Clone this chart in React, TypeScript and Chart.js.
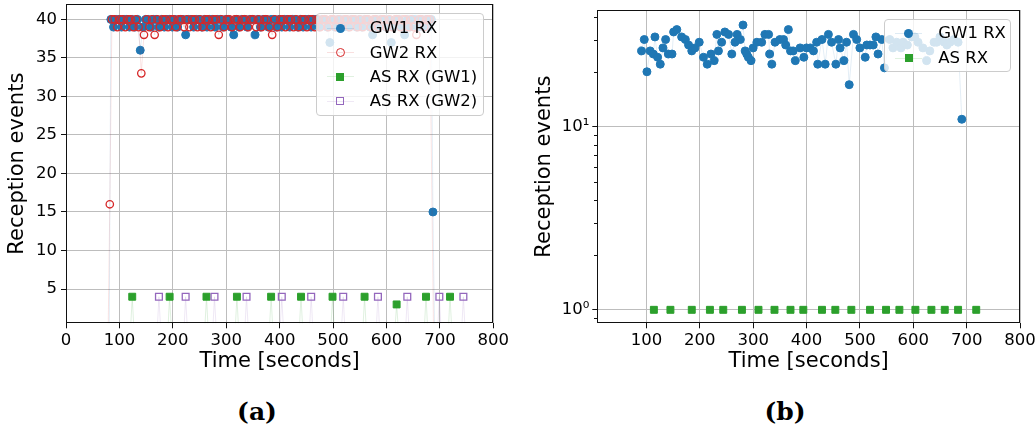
import React, { useEffect, useRef } from 'react';
import { Chart, registerables } from 'chart.js';

Chart.register(...registerables);

const FONT = "'DejaVu Sans', sans-serif";
const BLUE = '#1f77b4';
const RED = '#d62728';
const GREEN = '#2ca02c';
const PURPLE = '#9467bd';
const GRID = '#bdbdbd';

// ---------- (a) linear plot ----------
const xTicksA = [0, 100, 200, 300, 400, 500, 600, 700, 800];

const gw1TimesA = [
  81,
  84, 89, 94, 99, 104, 109, 114, 119, 124, 129,
  134, 139, 144, 149, 154, 159, 164, 169, 174, 179,
  184, 189, 194, 199, 204, 209, 214, 219, 224, 229,
  234, 239, 244, 249, 254, 259, 264, 269, 274, 279,
  284, 289, 294, 299, 304, 309, 314, 319, 324, 329,
  334, 339, 344, 349, 354, 359, 364, 369, 374, 379,
  384, 389, 394, 399, 404, 409, 414, 419, 424, 429,
  434, 439, 444, 449, 454, 459, 464, 469, 474, 479,
  484, 489, 494, 499, 504, 509, 514, 519, 524, 529,
  534, 539, 544, 549, 554, 559, 564, 569, 574, 579,
  584, 589, 594, 599, 604, 609, 614, 619, 624, 629,
  634, 639, 644, 649, 654, 659, 664, 669, 674, 679,
  684, 687, 690,
];
const gw1ValuesA = [
  0,
  40, 39, 40, 40, 39, 40, 40, 39, 40, 39,
  40, 36, 39, 40, 40, 39, 40, 40, 39, 40,
  39, 40, 40, 39, 40, 39, 40, 40, 38, 40,
  40, 39, 40, 40, 39, 40, 39, 40, 40, 39,
  40, 40, 39, 40, 40, 39, 38, 40, 39, 40,
  40, 39, 40, 40, 38, 40, 39, 40, 40, 39,
  40, 40, 39, 40, 39, 40, 40, 39, 40, 40,
  39, 40, 39, 40, 40, 39, 40, 40, 39, 40,
  40, 39, 37, 40, 39, 40, 40, 39, 40, 39,
  40, 40, 39, 40, 39, 40, 40, 39, 38, 40,
  39, 40, 40, 39, 40, 37, 39, 40, 40, 39,
  38, 40, 39, 40, 40, 39, 40, 39, 40, 39,
  40, 15, 0,
];

const gw2TimesA = [
  79, 82,
  86, 91, 96, 101, 106, 111, 116, 121, 126, 131,
  136, 141, 146, 151, 156, 161, 166, 171, 176, 181,
  186, 191, 196, 201, 206, 211, 216, 221, 226, 231,
  236, 241, 246, 251, 256, 261, 266, 271, 276, 281,
  286, 291, 296, 301, 306, 311, 316, 321, 326, 331,
  336, 341, 346, 351, 356, 361, 366, 371, 376, 381,
  386, 391, 396, 401, 406, 411, 416, 421, 426, 431,
  436, 441, 446, 451, 456, 461, 466, 471, 476, 481,
  486, 491, 496, 501, 506, 511, 516, 521, 526, 531,
  536, 541, 546, 551, 556, 561, 566, 571, 576, 581,
  586, 591, 596, 601, 606, 611, 616, 621, 626, 631,
  636, 641, 646, 651, 656, 661, 666, 671, 676, 681,
  688,
];
const gw2ValuesA = [
  0, 16,
  40, 40, 39, 40, 40, 39, 40, 40, 39, 40,
  39, 33, 38, 40, 39, 40, 38, 40, 39, 40,
  40, 39, 40, 40, 39, 40, 40, 39, 40, 39,
  40, 40, 39, 40, 39, 40, 40, 39, 40, 40,
  38, 40, 39, 40, 40, 39, 40, 40, 39, 40,
  40, 39, 40, 40, 39, 40, 39, 40, 40, 39,
  38, 40, 39, 40, 40, 39, 40, 40, 39, 40,
  39, 40, 40, 39, 40, 40, 39, 40, 39, 40,
  40, 39, 40, 40, 39, 40, 39, 40, 40, 39,
  40, 40, 39, 40, 39, 40, 40, 39, 40, 40,
  39, 40, 40, 39, 40, 39, 40, 40, 39, 40,
  40, 39, 40, 39, 38, 40, 40, 39, 40, 40,
  0,
];

const asGw1TimesA = [124, 194, 263, 320, 384, 440, 499, 559, 619, 674, 719];
const asGw1ValuesA = [4, 4, 4, 4, 4, 4, 4, 4, 3, 4, 4];
const asGw2TimesA = [174, 224, 278, 338, 404, 459, 519, 584, 639, 699, 744];
const asGw2ValuesA = [4, 4, 4, 4, 4, 4, 4, 4, 4, 4, 4];

// ---------- (b) log plot ----------
const xTicksB = [100, 200, 300, 400, 500, 600, 700, 800];
const minorTicksB = [0.9, 2, 3, 4, 5, 6, 7, 8, 9, 20, 30, 40];

const gw1TimesB = [
  88, 91, 96, 101, 107, 113, 116, 121, 126, 131,
  136, 141, 148, 151, 157, 166, 173, 179, 185, 191,
  199, 207, 214, 221, 227, 232, 235, 241, 247, 254,
  260, 266, 270, 276, 281, 285, 288, 291, 296, 300,
  307, 316, 322, 329, 331, 335, 341, 350, 357, 361,
  366, 370, 375, 379, 388, 395, 400, 407, 413, 419,
  421, 429, 435, 441, 447, 455, 460, 463, 470, 475,
  480, 488, 494, 500, 510, 513, 519, 525, 530, 534,
  541, 546, 556, 562, 569, 577, 581, 589, 597, 603,
  609, 618, 625, 631, 639, 644, 650, 658, 663, 669,
  676, 684, 691, 694,
];
const gw1ValuesB = [
  0, 26, 30, 20, 26, 25, 31, 24, 22, 27,
  30, 25, 25, 33, 34, 31, 30, 28, 26, 27,
  29, 24, 22, 25, 23, 32, 26, 29, 33, 32,
  25, 29, 32, 30, 36, 26, 25, 24, 23, 27,
  29, 29, 32, 32, 25, 22, 29, 30, 30, 28,
  34, 26, 26, 23, 27, 24, 27, 27, 26, 29,
  22, 30, 22, 32, 29, 22, 30, 27, 23, 29,
  17, 32, 30, 27, 24, 28, 28, 28, 31, 25,
  30, 21, 30, 27, 29, 27, 29, 28, 31, 31,
  29, 27, 23, 26, 29, 29, 31, 29, 28, 29,
  30, 29, 11, 0,
];

const asTimesB = [114, 145, 185, 219, 244, 279, 310, 340, 370, 394, 429, 454, 484, 519, 549, 574, 604, 634, 659, 684, 718];
const asValuesB = [1, 1, 1, 1, 1, 1, 1, 1, 1, 1, 1, 1, 1, 1, 1, 1, 1, 1, 1, 1, 1];

const PULSE_HALF = 3;

function pts(times: number[], values: number[]) {
  return times.map((t, i) => ({ x: t, y: values[i] }));
}
function pulses(times: number[], values: number[]) {
  const out: { x: number; y: number }[] = [];
  times.forEach((t, i) => {
    out.push({ x: t - PULSE_HALF, y: 0 }, { x: t, y: values[i] }, { x: t + PULSE_HALF, y: 0 });
  });
  return out;
}

const hideZero = (r: number) => (ctx: any) => (ctx.raw && ctx.raw.y === 0 ? 0 : r);

const framePlugin = {
  id: 'frame',
  afterDraw(chart: any) {
    const { ctx, chartArea: a } = chart;
    ctx.save();
    ctx.strokeStyle = '#111';
    ctx.lineWidth = 1;
    const l = Math.round(a.left) + 0.5;
    const t = Math.round(a.top) + 0.5;
    const r = Math.round(a.right) - 0.5;
    const b = Math.round(a.bottom) - 0.5;
    ctx.strokeRect(l, t, r - l, b - t);
    ctx.restore();
  },
};

const minorTickPlugin = {
  id: 'minorTicks',
  afterDraw(chart: any) {
    const y = chart.scales.y;
    const { ctx, chartArea: a } = chart;
    ctx.save();
    ctx.strokeStyle = '#111';
    ctx.lineWidth = 1;
    minorTicksB.forEach((v) => {
      const py = Math.round(y.getPixelForValue(v)) + 0.5;
      ctx.beginPath();
      ctx.moveTo(Math.round(a.left) - 3, py);
      ctx.lineTo(Math.round(a.left), py);
      ctx.stroke();
    });
    ctx.restore();
  },
};

const tickFont = { family: FONT, size: 16.5 };
const titleFont = { family: FONT, size: 21 };

function xScale(min: number, max: number, ticksList: number[]) {
  return {
    type: 'linear',
    min,
    max,
    afterBuildTicks: (s: any) => {
      s.ticks = ticksList.map((v) => ({ value: v }));
    },
    ticks: { font: tickFont, color: '#000', padding: 3, maxRotation: 0, minRotation: 0, autoSkip: false },
    grid: { color: GRID, lineWidth: 1, tickColor: '#111', tickLength: 5 },
    border: { display: false },
    title: { display: true, text: 'Time [seconds]', font: titleFont, color: '#000', padding: { top: 0, bottom: 5.4 } },
    afterFit: (s: any) => {
      s.height = 56.7;
      s.paddingLeft = 0;
      s.paddingRight = 0;
    },
  };
}

function configA(): any {
  return {
    type: 'line',
    data: {
      datasets: [
        {
          label: 'GW1 RX', data: pts(gw1TimesA, gw1ValuesA), order: 4,
          borderColor: 'rgba(31,119,180,0.12)', borderWidth: 1, tension: 0,
          pointRadius: hideZero(4), pointStyle: 'circle',
          pointBackgroundColor: BLUE, pointBorderColor: BLUE, pointBorderWidth: 1,
        },
        {
          label: 'GW2 RX', data: pts(gw2TimesA, gw2ValuesA), order: 3,
          borderColor: 'rgba(214,39,40,0.12)', borderWidth: 1, tension: 0,
          pointRadius: hideZero(3.7), pointStyle: 'circle',
          pointBackgroundColor: 'rgba(0,0,0,0)', pointBorderColor: RED, pointBorderWidth: 1.3,
        },
        {
          label: 'AS RX (GW1)', data: pulses(asGw1TimesA, asGw1ValuesA), order: 2,
          borderColor: 'rgba(44,160,44,0.15)', borderWidth: 1, tension: 0,
          pointRadius: hideZero(4.9), pointStyle: 'rect',
          pointBackgroundColor: GREEN, pointBorderColor: GREEN, pointBorderWidth: 1,
        },
        {
          label: 'AS RX (GW2)', data: pulses(asGw2TimesA, asGw2ValuesA), order: 1,
          borderColor: 'rgba(148,103,189,0.15)', borderWidth: 1, tension: 0,
          pointRadius: hideZero(4.8), pointStyle: 'rect',
          pointBackgroundColor: 'rgba(0,0,0,0)', pointBorderColor: PURPLE, pointBorderWidth: 1.3,
        },
      ],
    },
    options: {
      animation: false,
      responsive: false,
      devicePixelRatio: 1,
      events: [],
      layout: { padding: { left: 0, right: 23.7, top: 4, bottom: 0 } },
      plugins: { legend: { display: false }, tooltip: { enabled: false } },
      scales: {
        x: xScale(0, 800, xTicksA),
        y: {
          type: 'linear',
          min: 0.55,
          max: 42,
          ticks: { stepSize: 5, includeBounds: false, font: tickFont, color: '#000', padding: 4, autoSkip: false },
          grid: { color: GRID, lineWidth: 1, tickColor: '#111', tickLength: 5 },
          border: { display: false },
          title: { display: true, text: 'Reception events', font: titleFont, color: '#000', padding: { top: 5.4, bottom: 0 } },
          afterFit: (s: any) => {
            s.width = 66;
            s.paddingTop = 0;
            s.paddingBottom = 0;
          },
        },
      },
    },
    plugins: [framePlugin],
  };
}

const isMajorLog = (v: any) => v !== undefined && (Math.abs(v - 1) < 1e-9 || Math.abs(v - 10) < 1e-9);

function configB(): any {
  return {
    type: 'line',
    data: {
      datasets: [
        {
          label: 'GW1 RX', data: pts(gw1TimesB, gw1ValuesB), order: 2,
          borderColor: 'rgba(31,119,180,0.12)', borderWidth: 1, tension: 0,
          pointRadius: hideZero(4), pointStyle: 'circle',
          pointBackgroundColor: BLUE, pointBorderColor: BLUE, pointBorderWidth: 1,
        },
        {
          label: 'AS RX', data: pulses(asTimesB, asValuesB), order: 1,
          borderColor: 'rgba(44,160,44,0.15)', borderWidth: 1, tension: 0,
          pointRadius: hideZero(4.9), pointStyle: 'rect',
          pointBackgroundColor: GREEN, pointBorderColor: GREEN, pointBorderWidth: 1,
        },
      ],
    },
    options: {
      animation: false,
      responsive: false,
      devicePixelRatio: 1,
      events: [],
      layout: { padding: { left: 0, right: 15, top: 10, bottom: 0 } },
      plugins: { legend: { display: false }, tooltip: { enabled: false } },
      scales: {
        x: xScale(8, 800, xTicksB),
        y: {
          type: 'logarithmic',
          min: 0.844,
          max: 43.5,
          ticks: {
            font: tickFont, color: '#000', padding: 3, autoSkip: false,
            callback: (v: any) => {
              const n = Number(v);
              if (Math.abs(n - 1) < 1e-9) return '10\u2070';
              if (Math.abs(n - 10) < 1e-9) return '10\u00b9';
              return '';
            },
          },
          grid: {
            lineWidth: 1, tickLength: 5,
            color: (ctx: any) => (isMajorLog(ctx.tick?.value) ? GRID : 'rgba(0,0,0,0)'),
            tickColor: (ctx: any) => (isMajorLog(ctx.tick?.value) ? '#111' : 'rgba(0,0,0,0)'),
          },
          border: { display: false },
          title: { display: true, text: 'Reception events', font: titleFont, color: '#000', padding: { top: 15.4, bottom: 0 } },
          afterFit: (s: any) => {
            s.width = 80.3;
            s.paddingTop = 0;
            s.paddingBottom = 0;
          },
        },
      },
    },
    plugins: [framePlugin, minorTickPlugin],
  };
}

type Shape = 'circle' | 'ocircle' | 'square' | 'osquare';
interface LegendItem { label: string; color: string; shape: Shape; line: string }

const legendA: LegendItem[] = [
  { label: 'GW1 RX', color: BLUE, shape: 'circle', line: 'rgba(31,119,180,0.15)' },
  { label: 'GW2 RX', color: RED, shape: 'ocircle', line: 'rgba(214,39,40,0.15)' },
  { label: 'AS RX (GW1)', color: GREEN, shape: 'square', line: 'rgba(44,160,44,0.15)' },
  { label: 'AS RX (GW2)', color: PURPLE, shape: 'osquare', line: 'rgba(148,103,189,0.15)' },
];
const legendB: LegendItem[] = [
  { label: 'GW1 RX', color: BLUE, shape: 'circle', line: 'rgba(31,119,180,0.15)' },
  { label: 'AS RX', color: GREEN, shape: 'square', line: 'rgba(44,160,44,0.15)' },
];

function Marker({ shape, color }: { shape: Shape; color: string }) {
  const base: React.CSSProperties = { position: 'absolute', boxSizing: 'border-box' };
  if (shape === 'circle') return <div style={{ ...base, left: -4.5, top: -4.5, width: 9, height: 9, borderRadius: '50%', background: color }} />;
  if (shape === 'ocircle') return <div style={{ ...base, left: -4.5, top: -4.5, width: 9, height: 9, borderRadius: '50%', border: `1.3px solid ${color}` }} />;
  if (shape === 'square') return <div style={{ ...base, left: -4, top: -4, width: 8, height: 8, background: color }} />;
  return <div style={{ ...base, left: -4, top: -4, width: 8, height: 8, border: `1.3px solid ${color}` }} />;
}

function Legend(props: { left: number; top: number; width: number; height: number; items: LegendItem[]; first: number; gap: number }) {
  const { left, top, width, height, items, first, gap } = props;
  return (
    <div
      style={{
        position: 'absolute', left, top, width, height, boxSizing: 'border-box',
        background: 'rgba(255,255,255,0.8)', border: '1px solid #cccccc', borderRadius: 4,
        fontFamily: FONT, fontSize: 16.5, color: '#000',
      }}
    >
      {items.map((it, i) => {
        const cy = first + i * gap;
        return (
          <React.Fragment key={it.label}>
            <div style={{ position: 'absolute', left: 10, top: cy - 0.5, width: 27, height: 1, background: it.line }} />
            <div style={{ position: 'absolute', left: 23.5, top: cy }}>
              <Marker shape={it.shape} color={it.color} />
            </div>
            <div style={{ position: 'absolute', left: 53, top: cy - 10, height: 20, lineHeight: '20px', whiteSpace: 'nowrap' }}>{it.label}</div>
          </React.Fragment>
        );
      })}
    </div>
  );
}

export default function App() {
  const refA = useRef<HTMLCanvasElement>(null);
  const refB = useRef<HTMLCanvasElement>(null);

  useEffect(() => {
    const a = new Chart(refA.current as HTMLCanvasElement, configA());
    const b = new Chart(refB.current as HTMLCanvasElement, configB());
    return () => {
      a.destroy();
      b.destroy();
    };
  }, []);

  const caption: React.CSSProperties = {
    position: 'absolute', top: 396, width: 100, height: 32, lineHeight: '32px', textAlign: 'center',
    fontFamily: "'DejaVu Serif', serif", fontWeight: 'bold', fontSize: 25, color: '#000',
  };

  return (
    <div style={{ position: 'fixed', left: 0, top: 0, width: 1035, height: 432, background: '#fff', overflow: 'hidden' }}>
      <canvas ref={refA} width={517} height={380} style={{ position: 'absolute', left: 0, top: 0, width: 517, height: 380, display: 'block' }} />
      <canvas ref={refB} width={518} height={380} style={{ position: 'absolute', left: 517, top: 0, width: 518, height: 380, display: 'block' }} />
      <Legend left={315.7} top={12.7} width={168.6} height={103.3} items={legendA} first={14.6} gap={24.3} />
      <Legend left={884.3} top={19} width={126.7} height={52.7} items={legendB} first={13.3} gap={25} />
      <div style={{ ...caption, left: 207 }}>(a)</div>
      <div style={{ ...caption, left: 735 }}>(b)</div>
    </div>
  );
}
